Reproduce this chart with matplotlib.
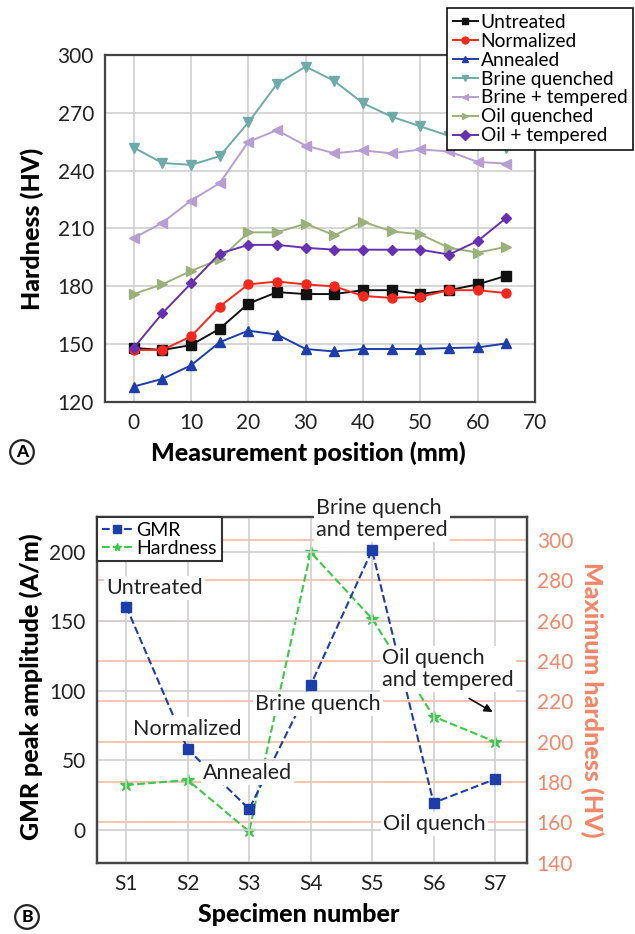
import matplotlib
matplotlib.use("Agg")
import matplotlib.pyplot as plt
import numpy as np

plt.rcParams['font.family'] = ['Lato', 'DejaVu Sans']

# ---------------- Panel A data ----------------
positions = [0, 5, 10, 15, 20, 25, 30, 35, 40, 45, 50, 55, 60, 65]
untreated = [148, 147, 149.5, 158, 171, 177, 176, 176, 178, 178, 176, 178, 181, 185.5]
normalized = [147, 147, 154, 169.5, 181, 182.5, 181, 180, 175, 174, 174.5, 178, 178, 176.5]
annealed = [128, 132, 139, 151, 157, 155, 147.5, 146.2, 147.5, 147.5, 147.5, 148, 148.3, 150.4]
brine_quenched = [252, 244, 243, 247.5, 265, 285, 294, 286.5, 275, 268, 263, 258, 255, 252]
brine_tempered = [205, 213, 224.5, 233.5, 255, 261, 253, 249, 250.5, 249, 251, 250, 244.5, 243.7]
oil_quenched = [176, 181, 188, 194, 208, 208, 212.5, 206.5, 213.5, 208.5, 207, 200, 197.5, 200.5]
oil_tempered = [148, 166, 181.5, 197, 201.5, 201.5, 200, 199, 199, 199, 199, 196.5, 203.5, 215.5]

series_names = ["Untreated", "Normalized", "Annealed", "Brine quenched",
                "Brine + tempered", "Oil quenched", "Oil + tempered"]
series_vals = [untreated, normalized, annealed, brine_quenched,
               brine_tempered, oil_quenched, oil_tempered]
series_colors = ["#111111", "#F5281E", "#1D3DAA", "#6EAAA8",
                 "#B79ED2", "#9CB07C", "#6630B0"]
series_markers = ["s", "o", "^", "v", "<", ">", "D"]

xticks_a = [0, 10, 20, 30, 40, 50, 60, 70]
yticks_a = [120, 150, 180, 210, 240, 270, 300]

# ---------------- Panel B data ----------------
specimens = ["S1", "S2", "S3", "S4", "S5", "S6", "S7"]
gmr = [160.5, 58, 15, 104, 201, 19.5, 36.5]
hardness = [178.5, 181, 155.5, 294, 261, 212.5, 200]
left_ticks_b = [0, 50, 100, 150, 200]
right_ticks_b = [140, 160, 180, 200, 220, 240, 260, 280, 300]

W, H = 635, 934
fig = plt.figure(figsize=(W / 100, H / 100), dpi=100)

spine_col = "#444444"
grid_col = "#D0D0D0"
orange = "#F4876A"
tick_fs = 15
label_fs = 18
afs = 15.5

# ---------------- Panel A ----------------
axA = fig.add_axes([105 / W, 1 - 402 / H, 430 / W, 347 / H])
for name, vals, c, m in zip(series_names, series_vals, series_colors, series_markers):
    axA.plot(positions, vals, color=c, marker=m, markersize=6.5 if m != "D" else 5.5,
             linewidth=1.4, label=name)
axA.set_xlim(-5, 70)
axA.set_ylim(120, 300)
axA.set_xticks(xticks_a)
axA.set_yticks(yticks_a)
axA.grid(True, color=grid_col, linewidth=1.2)
axA.set_axisbelow(True)
axA.tick_params(length=0, labelsize=tick_fs, pad=8, colors="#222222")
for s in axA.spines.values():
    s.set_color(spine_col)
    s.set_linewidth(1.6)
axA.set_xlabel("Measurement position (mm)", fontsize=label_fs, fontweight="black")
axA.xaxis.label.set_va("center")
axA.xaxis.set_label_coords((308 - 105) / 430, (402 - 453) / 347)
axA.set_ylabel("Hardness (HV)", fontsize=label_fs, fontweight="black")
axA.yaxis.label.set_va("center")
axA.yaxis.set_label_coords((32 - 105) / 430, 0.5)

legA = fig.legend(loc="upper right", bbox_to_anchor=(633 / W, 1 - 8 / H),
                  fontsize=13.8, frameon=True, fancybox=False, framealpha=1,
                  edgecolor="#111111", handlelength=1.3, handletextpad=0.15,
                  labelspacing=0.1, borderpad=0.3, borderaxespad=0)
legA.get_frame().set_linewidth(1.2)
for h in legA.legend_handles:
    h.set_markersize(5)

fig.text(22 / W, 1 - 452 / H, "A", fontsize=12.5, fontweight="black", ha="center", va="center",
         bbox=dict(boxstyle="circle,pad=0.22", facecolor="white", edgecolor="#222222", linewidth=1.6))

# ---------------- Panel B ----------------
axB = fig.add_axes([96.7 / W, 1 - 862.7 / H, 430.3 / W, 346 / H])
axB2 = axB.twinx()
xs = np.arange(1, len(specimens) + 1)

axB2.plot(xs, hardness, color="#3DC84A", linestyle="--", linewidth=1.5, marker="*",
          markersize=9, label="Hardness")
axB2.set_ylim(140, 311.6)
axB2.set_yticks(right_ticks_b)
axB2.grid(True, axis="y", color="#F9B8A4", linewidth=1.2)
axB2.tick_params(length=0, labelsize=tick_fs, pad=7, colors=orange)
axB2.set_ylabel("Maximum hardness (HV)", fontsize=label_fs, fontweight="black",
                color=orange, rotation=270)
axB2.yaxis.label.set_va("center")
axB2.yaxis.set_label_coords((592 - 96.7) / 430.3, (862.7 - 700) / 346)

axB.set_zorder(axB2.get_zorder() + 1)
axB.patch.set_visible(False)
axB.plot(xs, gmr, color="#1D3DAA", linestyle="--", linewidth=1.5, marker="s",
         markersize=7, label="GMR")
axB.set_xlim(0.52, 7.52)
axB.set_ylim(-23.5, 225)
axB.set_xticks(xs)
axB.set_xticklabels(specimens)
axB.set_yticks(left_ticks_b)
axB.grid(True, color=grid_col, linewidth=1.2)
axB.tick_params(length=0, labelsize=tick_fs, pad=8, colors="#222222")
for a in (axB, axB2):
    for s in a.spines.values():
        s.set_color(spine_col)
        s.set_linewidth(1.6)
axB.set_xlabel("Specimen number", fontsize=label_fs, fontweight="black")
axB.xaxis.label.set_va("center")
axB.xaxis.set_label_coords((299 - 96.7) / 430.3, (862.7 - 915) / 346)
axB.set_ylabel("GMR peak amplitude (A/m)", fontsize=label_fs, fontweight="black")
axB.yaxis.label.set_va("center")
axB.yaxis.set_label_coords((31 - 96.7) / 430.3, (862.7 - 687) / 346)

h1, l1 = axB.get_legend_handles_labels()
h2, l2 = axB2.get_legend_handles_labels()
legB = axB.legend(h1 + h2, l1 + l2, loc="upper left", fontsize=14, frameon=True,
                  fancybox=False, framealpha=1, edgecolor="#333333", handlelength=1.6,
                  handletextpad=0.2, labelspacing=0.05, borderpad=0.25, borderaxespad=0)
legB.get_frame().set_linewidth(1.5)
for h in legB.legend_handles:
    h.set_markersize(6)

tb = dict(facecolor="white", edgecolor="none", pad=1.5)


def px_text(x_px, y_px, s):
    # label placed at a figure-pixel position (left aligned, vertically centred)
    fig.text(x_px / W, 1 - y_px / H, s, ha="left", va="center", fontsize=afs, color="#222222",
             bbox=tb, zorder=10, linespacing=1.1)


px_text(106, 587.7, "Untreated")
px_text(133, 729, "Normalized")
px_text(203, 773, "Annealed")
px_text(255, 704, "Brine quench")
px_text(316, 519, "Brine quench\nand tempered")
px_text(382, 669, "Oil quench\nand tempered")
px_text(383, 824.3, "Oil quench")

axB2.annotate("", xy=(7, 214), xytext=(466.7 / W, 1 - 697 / H),
              textcoords="figure fraction",
              arrowprops=dict(arrowstyle="-|>", color="#111111", linewidth=1.2,
                              mutation_scale=12), zorder=11)

fig.text(27 / W, 1 - 917 / H, "B", fontsize=12.5, fontweight="black", ha="center", va="center",
         bbox=dict(boxstyle="circle,pad=0.22", facecolor="white", edgecolor="#222222", linewidth=1.6))

fig.savefig("out.png", dpi=100, facecolor="white")
